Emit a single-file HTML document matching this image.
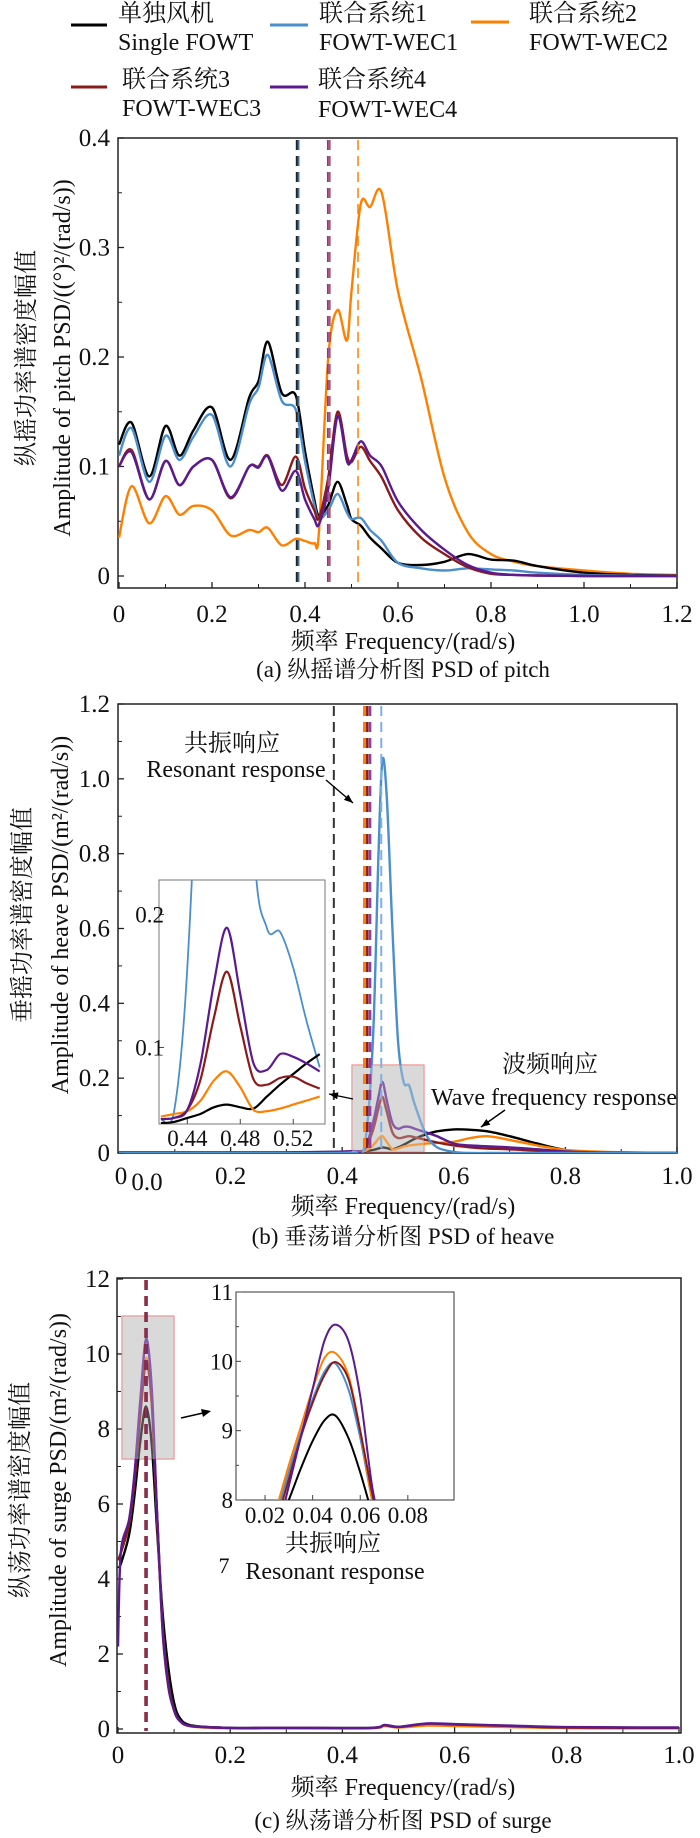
<!DOCTYPE html>
<html><head><meta charset="utf-8"><style>
body{margin:0;background:#fff}
svg text{font-family:"Liberation Serif","Noto Serif CJK SC","Noto Sans CJK SC",serif;fill:#111}
</style></head><body>
<svg id="fig" width="700" height="1833" viewBox="0 0 700 1833" xmlns="http://www.w3.org/2000/svg" font-family="Liberation Serif, Noto Serif CJK SC, serif">
<defs>
<clipPath id="clipA"><rect x="118" y="138" width="559" height="450"/></clipPath>
<clipPath id="clipB"><rect x="118" y="704" width="559" height="449"/></clipPath>
<clipPath id="clipBi"><rect x="159" y="880" width="166" height="244"/></clipPath>
<clipPath id="clipC"><rect x="117" y="1278" width="564" height="455"/></clipPath>
<clipPath id="clipCi"><rect x="236" y="1292" width="218" height="208"/></clipPath>
</defs>
<g font-size="24">
<g><line x1="71" y1="25" x2="107" y2="25" stroke="#000" stroke-width="3"/><text x="118" y="21">单独风机</text><text x="118" y="50">Single FOWT</text></g>
<g><line x1="270" y1="25" x2="308" y2="25" stroke="#4a8fcc" stroke-width="3"/><text x="319" y="21">联合系统1</text><text x="319" y="50">FOWT-WEC1</text></g>
<g><line x1="471" y1="22" x2="509" y2="22" stroke="#ff8000" stroke-width="3"/><text x="529" y="21">联合系统2</text><text x="529" y="50">FOWT-WEC2</text></g>
<g><line x1="71" y1="87" x2="107" y2="87" stroke="#8b1a1a" stroke-width="3"/><text x="122" y="87">联合系统3</text><text x="122" y="116">FOWT-WEC3</text></g>
<g><line x1="270" y1="87" x2="308" y2="87" stroke="#5b1a8f" stroke-width="3"/><text x="318" y="87">联合系统4</text><text x="318" y="117">FOWT-WEC4</text></g>
</g>
</svg>
<script>
// ---------- Chart (a) pitch ----------
const freqA=[0,0.027,0.065,0.1,0.13,0.16,0.2,0.24,0.28,0.3,0.32,0.35,0.38,0.4,0.42,0.43,0.45,0.47,0.49,0.5,0.52,0.54,0.565,0.6,0.65,0.7,0.75,0.8,0.85,0.9,1.0,1.1,1.2];
const pitchSingle=[0.12,0.14,0.091,0.137,0.11,0.133,0.154,0.106,0.163,0.178,0.214,0.167,0.165,0.114,0.07,0.055,0.065,0.086,0.065,0.052,0.046,0.035,0.025,0.012,0.01,0.013,0.02,0.015,0.014,0.009,0.003,0.001,0.0005];
const pitchWec1=[0.11,0.135,0.086,0.128,0.106,0.127,0.147,0.1,0.157,0.172,0.202,0.16,0.152,0.105,0.065,0.052,0.06,0.075,0.058,0.052,0.053,0.042,0.032,0.012,0.007,0.005,0.007,0.006,0.005,0.003,0.001,0.0005,0.0003];
const pitchWec2=[0.035,0.082,0.048,0.073,0.056,0.064,0.06,0.037,0.042,0.04,0.044,0.028,0.034,0.032,0.03,0.04,0.2,0.243,0.215,0.26,0.34,0.337,0.35,0.26,0.18,0.09,0.04,0.02,0.013,0.009,0.005,0.002,0.001];
const pitchWec3=[0.1,0.115,0.07,0.105,0.083,0.1,0.106,0.071,0.1,0.1,0.11,0.083,0.109,0.08,0.06,0.053,0.09,0.15,0.11,0.104,0.118,0.105,0.09,0.06,0.035,0.02,0.008,0.002,0.001,0.0005,0,0,0];
const pitchWec4=[0.1,0.113,0.07,0.105,0.083,0.1,0.106,0.072,0.1,0.099,0.109,0.078,0.096,0.07,0.052,0.047,0.08,0.146,0.105,0.106,0.123,0.11,0.1,0.068,0.042,0.024,0.01,0.003,0.001,0.0005,0,0,0];
const pitchDashed=[0.384,0.451,0.514];
const ticksAx=[0,0.2,0.4,0.6,0.8,1.0,1.2];
const labelsAx=["0","0.2","0.4","0.6","0.8","1.0","1.2"];
const ticksAy=[0,0.1,0.2,0.3,0.4];
const labelsAy=["0","0.1","0.2","0.3","0.4"];
// ---------- Chart (b) heave ----------
const freqB=[0,0.1,0.2,0.3,0.38,0.42,0.44,0.455,0.465,0.472,0.48,0.49,0.5,0.51,0.52,0.53,0.55,0.57,0.6,0.63,0.66,0.7,0.75,0.8,0.85,0.9,1.0];
const heaveSingle=[0,0,0,0.001,0.003,0.004,0.005,0.008,0.012,0.015,0.013,0.01,0.015,0.022,0.03,0.038,0.05,0.058,0.063,0.062,0.058,0.045,0.025,0.008,0.003,0.001,0];
const heaveWec1=[0,0,0,0,0,0.003,0.02,0.3,0.8,1.05,0.95,0.6,0.3,0.19,0.18,0.13,0.05,0.015,0.003,0,0,0,0,0,0,0,0];
const heaveWec2=[0,0,0,0,0.001,0.002,0.005,0.02,0.038,0.045,0.03,0.01,0.012,0.017,0.02,0.022,0.025,0.027,0.03,0.04,0.045,0.035,0.02,0.008,0.004,0.002,0];
const heaveWec3=[0.001,0.001,0.001,0.001,0.002,0.004,0.01,0.06,0.12,0.15,0.11,0.055,0.04,0.042,0.045,0.042,0.035,0.028,0.02,0.015,0.012,0.01,0.006,0.003,0.001,0.0005,0];
const heaveWec4=[0.002,0.002,0.002,0.002,0.003,0.005,0.01,0.08,0.15,0.19,0.14,0.08,0.065,0.07,0.07,0.065,0.055,0.045,0.025,0.02,0.018,0.015,0.01,0.004,0.002,0.001,0];
const heaveDashed=[0.385,0.44,0.445,0.45,0.47];
const freqBi=[0.42,0.43,0.44,0.45,0.46,0.47,0.48,0.49,0.5,0.51,0.52,0.53,0.54];
const insetBSingle=[0.043,0.044,0.047,0.05,0.055,0.057,0.055,0.054,0.063,0.072,0.08,0.088,0.095];
const insetBWec1=[0.046,0.052,0.16,0.4,0.8,1.0,0.6,0.26,0.19,0.187,0.16,0.12,0.085];
const insetBWec2=[0.048,0.05,0.052,0.06,0.075,0.082,0.07,0.053,0.052,0.054,0.057,0.06,0.063];
const insetBWec3=[0.046,0.047,0.053,0.076,0.122,0.157,0.116,0.076,0.072,0.077,0.078,0.073,0.069];
const insetBWec4=[0.046,0.047,0.053,0.088,0.148,0.19,0.14,0.088,0.083,0.095,0.093,0.088,0.082];
const ticksBx=[0.2,0.4,0.6,0.8,1.0];
const labelsBx=["0.2","0.4","0.6","0.8","1.0"];
const ticksBy=[0,0.2,0.4,0.6,0.8,1.0,1.2];
const labelsBy=["0","0.2","0.4","0.6","0.8","1.0","1.2"];
const ticksBix=[0.44,0.48,0.52];
const labelsBix=["0.44","0.48","0.52"];
const ticksBiy=[0.1,0.2];
const labelsBiy=["0.1","0.2"];
// ---------- Chart (c) surge ----------
const freqC=[0,0.005,0.02,0.03,0.04,0.05,0.06,0.07,0.08,0.09,0.1,0.11,0.13,0.2,0.3,0.45,0.475,0.5,0.55,0.6,0.7,0.8,1.0];
const surgeSingle=[4.3,4.4,5.2,6.3,7.7,8.6,7.6,5.2,3.0,1.6,0.7,0.3,0.1,0.03,0.03,0.03,0.1,0.05,0.12,0.1,0.06,0.03,0.02];
const surgeWec1=[4.5,4.7,5.5,6.7,8.4,9.8,8.7,5.6,2.6,1.2,0.5,0.22,0.08,0.03,0.03,0.03,0.1,0.05,0.13,0.12,0.08,0.04,0.03];
const surgeWec2=[4.5,4.7,5.5,6.8,8.5,9.9,8.7,5.5,2.5,1.1,0.5,0.22,0.07,0.02,0.02,0.02,0.08,0.04,0.09,0.08,0.05,0.03,0.02];
const surgeWec3=[4.5,4.7,5.5,6.7,8.4,9.8,8.7,5.6,2.6,1.2,0.5,0.22,0.08,0.03,0.03,0.03,0.1,0.05,0.14,0.12,0.08,0.04,0.03];
const surgeWec4=[2.2,4.7,5.6,6.9,8.8,10.4,9.1,5.6,2.5,1.1,0.5,0.22,0.08,0.03,0.03,0.03,0.11,0.06,0.15,0.13,0.09,0.05,0.04];
const surgeDashed=[0.05];
const freqCi=[0.025,0.03,0.035,0.04,0.045,0.0495,0.055,0.06,0.065,0.07];
const insetCSingle=[7.6,8.0,8.45,8.85,9.15,9.22,8.9,8.4,7.8,7.2];
const insetCWec1=[7.8,8.4,8.95,9.45,9.85,9.97,9.6,8.9,8.0,7.3];
const insetCWec2=[7.9,8.5,9.05,9.6,10.05,10.12,9.8,9.0,8.0,7.3];
const insetCWec3=[7.7,8.3,8.9,9.4,9.8,9.99,9.75,9.0,8.1,7.3];
const insetCWec4=[7.5,8.2,8.9,9.6,10.3,10.53,10.3,9.5,8.2,7.4];
const ticksCx=[0,0.2,0.4,0.6,0.8,1.0];
const labelsCx=["0","0.2","0.4","0.6","0.8","1.0"];
const ticksCy=[0,2,4,6,8,10,12];
const labelsCy=["0","2","4","6","8","10","12"];
const ticksCix=[0.02,0.04,0.06,0.08];
const labelsCix=["0.02","0.04","0.06","0.08"];
const ticksCiy=[8,9,10,11];
const labelsCiy=["8","9","10","11"];

const COL={single:"#000000",wec1:"#4a8fcc",wec2:"#ff8000",wec3:"#8b1a1a",wec4:"#5b1a8f"};
const FONT='"Liberation Serif","Noto Serif CJK SC",serif';
const NS="http://www.w3.org/2000/svg";
const svg=document.getElementById("fig");
function mk(tag,attrs,parent){const e=document.createElementNS(NS,tag);for(const k in attrs)e.setAttribute(k,attrs[k]);(parent||svg).appendChild(e);return e;}
function lin(d0,d1,r0,r1){return v=>r0+(v-d0)/(d1-d0)*(r1-r0);}
function smoothPath(pts){
  let d="M"+pts[0][0].toFixed(1)+","+pts[0][1].toFixed(1);
  for(let i=0;i<pts.length-1;i++){
    const p0=pts[i-1]||pts[i],p1=pts[i],p2=pts[i+1],p3=pts[i+2]||p2;
    const t=0.16;
    const c1y=p1[1]+(p2[1]-p0[1])*t, c2y=p2[1]-(p3[1]-p1[1])*t;
    const c1x=p1[0]+(p2[0]-p0[0])*t, c2x=p2[0]-(p3[0]-p1[0])*t;
    d+=" C"+c1x.toFixed(1)+","+c1y.toFixed(1)+" "+c2x.toFixed(1)+","+c2y.toFixed(1)+" "+p2[0].toFixed(1)+","+p2[1].toFixed(1);
  }
  return d;
}
function series(g,xs,ys,sx,sy,color,w,name){
  const p=mk("path",{d:smoothPath(xs.map((x,i)=>[sx(x),sy(ys[i])])),fill:"none",stroke:color,"stroke-width":w,"stroke-linejoin":"round"},g);
  
  
  return p;
}
function txt(s,x,y,size,anchor,parent){const t=mk("text",{x:x,y:y,"font-size":size,"text-anchor":anchor||"middle","font-family":FONT},parent);t.textContent=s;return t;}
function frame(x,y,w,h,name){const r=mk("rect",{x:x,y:y,width:w,height:h,fill:"none",stroke:"#222","stroke-width":1.5});return r;}
function axes(sx,sy,xt,xl,yt,yl,x0,x1,y0,y1,fs,lblY,lblX,prefix,minorX,minorY){
  const g=mk("g",{});
  
  
  xt.forEach((v,i)=>{mk("line",{x1:sx(v),x2:sx(v),y1:y1,y2:y1-6,stroke:"#222","stroke-width":1.3},g);const t=txt(xl[i],sx(v),lblY,fs,"middle",g);});
  yt.forEach((v,i)=>{mk("line",{x1:x0,x2:x0+6,y1:sy(v),y2:sy(v),stroke:"#222","stroke-width":1.3},g);const t=txt(yl[i],lblX,sy(v)+8,fs,"end",g);});
  (minorX||[]).forEach(v=>mk("line",{x1:sx(v),x2:sx(v),y1:y1,y2:y1-4,stroke:"#222","stroke-width":1},g));
  (minorY||[]).forEach(v=>mk("line",{x1:x0,x2:x0+4,y1:sy(v),y2:sy(v),stroke:"#222","stroke-width":1},g));
  return g;
}
function dashed(x,y0,y1,color,w,name,op){const l=mk("line",{x1:x,x2:x,y1:y0,y2:y1,stroke:color,"stroke-width":w,"stroke-dasharray":"10,6",opacity:op||1});return l;}
function rotText(lines,cx,cy,fs,name){const g=mk("g",{transform:"translate("+cx+","+cy+") rotate(-90)"});lines.forEach(l=>{txt(l[0],0,l[1],fs,"middle",g);});return g;}

// ===== Chart A =====
{
 const sx=lin(0,1.2,119,677), sy=lin(0,0.4,576,138);
 frame(118,138,559,450,"pitch-plot-area");
 axes(sx,sy,ticksAx,labelsAx,ticksAy,labelsAy,118,677,138,588,25,622,110,"pitch",[0.1,0.3,0.5,0.7,0.9,1.1],[0.05,0.15,0.25,0.35]);
 const g=mk("g",{"clip-path":"url(#clipA)"});
 
 
 series(g,freqA,pitchWec2,sx,sy,COL.wec2,2.4,"pitch-line-fowt-wec2");
 series(g,freqA,pitchSingle,sx,sy,COL.single,2.4,"pitch-line-single-fowt");
 series(g,freqA,pitchWec1,sx,sy,COL.wec1,2.4,"pitch-line-fowt-wec1");
 series(g,freqA,pitchWec3,sx,sy,COL.wec3,2.4,"pitch-line-fowt-wec3");
 series(g,freqA,pitchWec4,sx,sy,COL.wec4,2.4,"pitch-line-fowt-wec4");
 dashed(sx(pitchDashed[0]),140,586,"#222",3.5,"pitch-resonance-single");
 dashed(sx(pitchDashed[0])+1,140,586,COL.wec1,2,"pitch-resonance-wec1",0.7);
 dashed(sx(pitchDashed[1]),140,586,COL.wec3,3.5,"pitch-resonance-wec3");
 dashed(sx(pitchDashed[1]),140,586,"#b060c0",2.5,"pitch-resonance-wec4",0.8);
 dashed(sx(pitchDashed[2]),140,586,COL.wec2,1.5,"pitch-resonance-wec2");
 const t1=txt("频率 Frequency/(rad/s)",403,649,24);
 const t2=txt("(a) 纵摇谱分析图 PSD of pitch",403,677,23);
 rotText([["纵摇功率谱密度幅值",0],["Amplitude of pitch PSD/((°)²/(rad/s))",36]],34,358,24,"pitch-y-axis-title");
}
// ===== Chart B =====
{
 const sx=lin(0,1.0,119,677), sy=lin(0,1.2,1153,704);
 frame(118,704,559,449,"heave-plot-area");
 axes(sx,sy,ticksBx,labelsBx,ticksBy,labelsBy,118,677,704,1153,25,1184,110,"heave",[0.1,0.3,0.5,0.7,0.9],[0.1,0.3,0.5,0.7,0.9,1.1]);
 const z1=txt("0",121,1184,25);
 const z2=txt("0.0",147,1190,25);
 const gr=mk("rect",{x:352,y:1065,width:72,height:87,fill:"#d9d9d9",stroke:"#f07070","stroke-width":1});
 
 
 const g=mk("g",{"clip-path":"url(#clipB)"});
 
 
 series(g,freqB,heaveSingle,sx,sy,COL.single,2.4,"heave-line-single-fowt");
 series(g,freqB,heaveWec2,sx,sy,COL.wec2,2.4,"heave-line-fowt-wec2");
 series(g,freqB,heaveWec3,sx,sy,COL.wec3,2.4,"heave-line-fowt-wec3");
 series(g,freqB,heaveWec4,sx,sy,COL.wec4,2.4,"heave-line-fowt-wec4");
 series(g,freqB,heaveWec1,sx,sy,COL.wec1,2.4,"heave-line-fowt-wec1");
 mk("rect",{x:352,y:1065,width:72,height:87,fill:"#d9d9d9",opacity:0.35});
 dashed(sx(heaveDashed[0]),706,1151,"#333",2,"heave-resonance-single");
 dashed(sx(heaveDashed[1]),706,1151,COL.wec2,3,"heave-resonance-wec2");
 dashed(sx(heaveDashed[2]),706,1151,COL.wec3,2.5,"heave-resonance-wec3");
 dashed(sx(heaveDashed[3]),706,1151,"#8a3fb0",2.5,"heave-resonance-wec4");
 dashed(sx(heaveDashed[4]),706,1151,"#7fb0e0",2,"heave-resonance-wec1");
 const ix=lin(0.4186,0.544,159,325), iy=lin(0.0424,0.226,1124,880);
 const ib=mk("rect",{x:159,y:880,width:166,height:244,fill:"#fff",stroke:"#777","stroke-width":1});
 
 
 const ig=mk("g",{"clip-path":"url(#clipBi)"});
 
 
 series(ig,freqBi,insetBWec1,ix,iy,COL.wec1,1.8,"heave-inset-line-fowt-wec1");
 series(ig,freqBi,insetBSingle,ix,iy,COL.single,2.2,"heave-inset-line-single-fowt");
 series(ig,freqBi,insetBWec2,ix,iy,COL.wec2,2.2,"heave-inset-line-fowt-wec2");
 series(ig,freqBi,insetBWec3,ix,iy,COL.wec3,2.2,"heave-inset-line-fowt-wec3");
 series(ig,freqBi,insetBWec4,ix,iy,COL.wec4,2.2,"heave-inset-line-fowt-wec4");
 ticksBix.forEach((v,i)=>{mk("line",{x1:ix(v),x2:ix(v),y1:1124,y2:1119,stroke:"#444"});const t=txt(labelsBix[i],ix(v),1146,23);});
 ticksBiy.forEach((v,i)=>{mk("line",{x1:159,x2:164,y1:iy(v),y2:iy(v),stroke:"#444"});const t=txt(labelsBiy[i],164,iy(v)+8,23,"end");});
 const a1=txt("共振响应",232,751,24);
 const a2=txt("Resonant response",236,777,24);
 const a3=txt("波频响应",550,1072,24);
 const a4=txt("Wave frequency response",554,1105,24);
 const ar=[[326,780,353,803,"resonant-arrow"],[505,1110,481,1127,"wave-arrow"],[353,1099,329,1094,"inset-arrow"]];
 ar.forEach(a=>{const l=mk("line",{x1:a[0],y1:a[1],x2:a[2],y2:a[3],stroke:"#000","stroke-width":1.4});
  const ang=Math.atan2(a[3]-a[1],a[2]-a[0]),L=9,W=3.5;const bx=a[2]-L*Math.cos(ang),by=a[3]-L*Math.sin(ang);
  mk("polygon",{points:a[2]+","+a[3]+" "+(bx-W*Math.sin(ang))+","+(by+W*Math.cos(ang))+" "+(bx+W*Math.sin(ang))+","+(by-W*Math.cos(ang)),fill:"#000"});});
 const t1=txt("频率 Frequency/(rad/s)",403,1214,24);
 const t2=txt("(b) 垂荡谱分析图 PSD of heave",403,1244,23);
 rotText([["垂摇功率谱密度幅值",0],["Amplitude of heave PSD/(m²/(rad/s))",38]],30,915,24,"heave-y-axis-title");
}
// ===== Chart C =====
{
 const sx=lin(0,1.0,118,679), sy=lin(0,12,1729,1279);
 frame(117,1278,564,455,"surge-plot-area");
 axes(sx,sy,ticksCx,labelsCx,ticksCy,labelsCy,117,681,1278,1733,25,1763,110,"surge",[0.1,0.3,0.5,0.7,0.9],[1,3,5,7,9,11]);
 const gr=mk("rect",{x:122,y:1316,width:52,height:143,fill:"#d9d9d9",stroke:"#f07070","stroke-width":1});
 
 
 const g=mk("g",{"clip-path":"url(#clipC)"});
 
 
 series(g,freqC,surgeSingle,sx,sy,COL.single,2.4,"surge-line-single-fowt");
 series(g,freqC,surgeWec1,sx,sy,COL.wec1,2.4,"surge-line-fowt-wec1");
 series(g,freqC,surgeWec2,sx,sy,COL.wec2,2.4,"surge-line-fowt-wec2");
 series(g,freqC,surgeWec3,sx,sy,COL.wec3,2.4,"surge-line-fowt-wec3");
 series(g,freqC,surgeWec4,sx,sy,COL.wec4,2.4,"surge-line-fowt-wec4");
 mk("rect",{x:122,y:1316,width:52,height:143,fill:"#d9d9d9",opacity:0.35});
 dashed(sx(surgeDashed[0]),1280,1731,COL.wec3,3.5,"surge-resonance-line");
 dashed(sx(surgeDashed[0]),1280,1731,"#7a3fa0",2,"surge-resonance-line-wec4",0.6);
 const ix=lin(0.0078,0.0994,236,454), iy=lin(8,11,1500,1292);
 const ib=mk("rect",{x:236,y:1292,width:218,height:208,fill:"#fff",stroke:"#333","stroke-width":1});
 
 
 const ig=mk("g",{"clip-path":"url(#clipCi)"});
 
 
 series(ig,freqCi,insetCSingle,ix,iy,COL.single,2,"surge-inset-line-single-fowt");
 series(ig,freqCi,insetCWec1,ix,iy,COL.wec1,2,"surge-inset-line-fowt-wec1");
 series(ig,freqCi,insetCWec2,ix,iy,COL.wec2,2,"surge-inset-line-fowt-wec2");
 series(ig,freqCi,insetCWec3,ix,iy,COL.wec3,2,"surge-inset-line-fowt-wec3");
 series(ig,freqCi,insetCWec4,ix,iy,COL.wec4,2,"surge-inset-line-fowt-wec4");
 ticksCix.forEach((v,i)=>{mk("line",{x1:ix(v),x2:ix(v),y1:1500,y2:1495,stroke:"#444"});const t=txt(labelsCix[i],ix(v),1523,23);});
 ticksCiy.forEach((v,i)=>{mk("line",{x1:236,x2:241,y1:iy(v),y2:iy(v),stroke:"#444"});const t=txt(labelsCiy[i],233,iy(v)+8,23,"end");});
 [8.5,9.5,10.5].forEach(v=>mk("line",{x1:236,x2:239,y1:iy(v),y2:iy(v),stroke:"#444"}));
 const a1=txt("共振响应",333,1551,24);
 const a0=txt("7",224,1573,22);
 const a2=txt("Resonant response",335,1579,24);
 const l=mk("line",{x1:181,y1:1418,x2:203,y2:1413,stroke:"#000","stroke-width":1.5});
 mk("polygon",{points:"211,1411 201,1409 203,1417",fill:"#000"});
 const t1=txt("频率 Frequency/(rad/s)",403,1795,24);
 const t2=txt("(c) 纵荡谱分析图 PSD of surge",403,1828,23);
 rotText([["纵荡功率谱密度幅值",0],["Amplitude of surge PSD/(m²/(rad/s))",38]],28,1490,24,"surge-y-axis-title");
}
</script>
</body></html>
